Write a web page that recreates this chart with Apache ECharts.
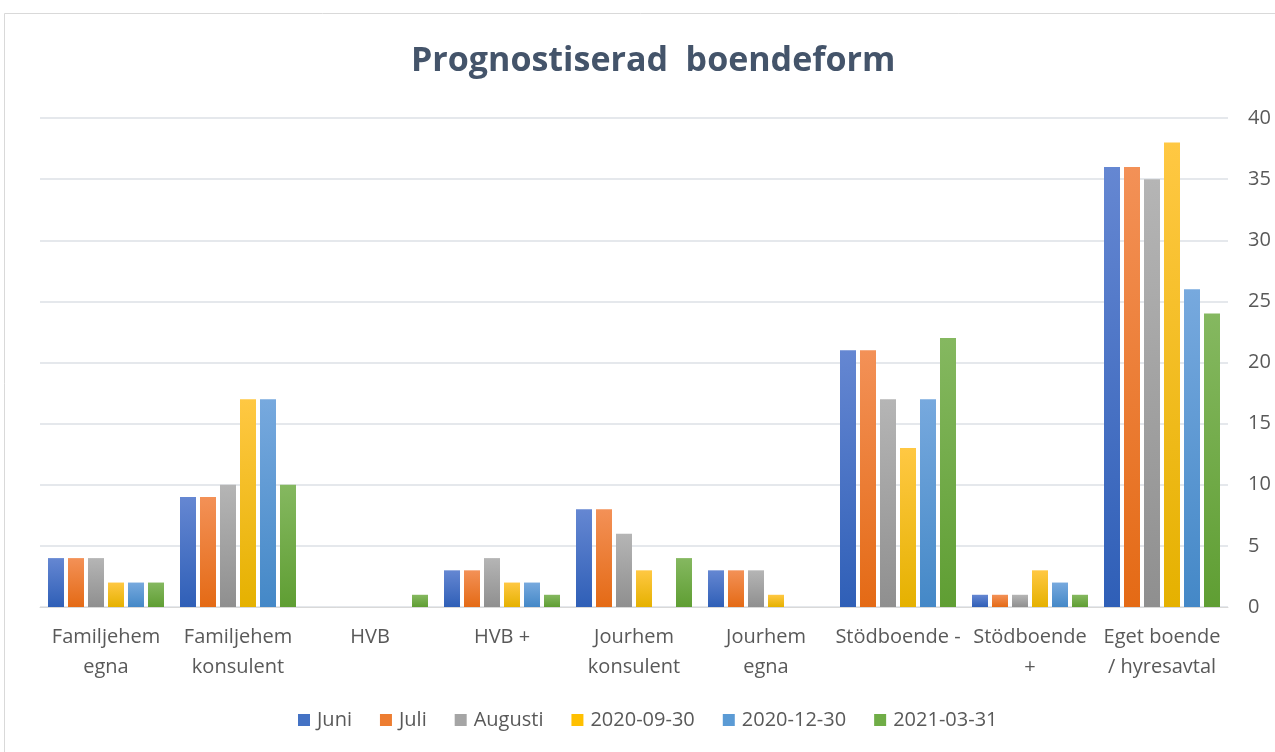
<!DOCTYPE html>
<html>
<head>
<meta charset="utf-8">
<script src="https://cdn.jsdelivr.net/npm/echarts@6/dist/echarts.min.js"></script>
<style>
html,body{margin:0;padding:0;background:#fff;}
#chart{width:1275px;height:752px;}
</style>
</head>
<body>
<div id="chart"></div>
<script>
const categories = ["Familjehem\negna", "Familjehem\nkonsulent", "HVB", "HVB +", "Jourhem\nkonsulent", "Jourhem\negna", "Stödboende -", "Stödboende\n+", "Eget boende\n/ hyresavtal"];
const seriesNames = ["Juni", "Juli", "Augusti", "2020-09-30", "2020-12-30", "2021-03-31"];
const juni    = [4, 9, 0, 3, 8, 3, 21, 1, 36];
const juli    = [4, 9, 0, 3, 8, 3, 21, 1, 36];
const augusti = [4, 10, 0, 4, 6, 3, 17, 1, 35];
const sep30   = [2, 17, 0, 2, 3, 1, 13, 3, 38];
const dec30   = [2, 17, 0, 2, 0, 0, 17, 2, 26];
const mar31   = [2, 10, 1, 1, 4, 0, 22, 1, 24];
const yTicks  = [0, 5, 10, 15, 20, 25, 30, 35, 40];

const seriesData = [juni, juli, augusti, sep30, dec30, mar31];
const topColors = ["#6587d2", "#f39157", "#b5b5b5", "#ffc843", "#77a9de", "#85b860"];
const botColors = ["#2f5fb7", "#e46a15", "#8f8f8f", "#e5b100", "#4488c7", "#5f9e33"];
const legendColors = ["#4472C4", "#ED7D31", "#A5A5A5", "#FFC000", "#5B9BD5", "#70AD47"];

const chart = echarts.init(document.getElementById('chart'));
const font = "'Open Sans', 'Noto Sans', sans-serif";

chart.setOption({
  backgroundColor: '#ffffff',
  animation: false,
  title: {
    text: 'Prognostiserad  boendeform',
    left: 406,
    top: 39,
    textStyle: { fontFamily: font, fontSize: 34, fontWeight: 'bold', color: '#44546A' }
  },
  graphic: [{
    type: 'rect',
    shape: { x: 4.5, y: 13.5, width: 1300, height: 800 },
    style: { fill: 'none', stroke: '#d9d9d9', lineWidth: 1 },
    silent: true
  }],
  legend: {
    top: 705,
    left: 293,
    itemWidth: 12,
    itemHeight: 12,
    itemGap: 28,
    icon: 'rect',
    textStyle: { fontFamily: font, fontSize: 20, color: '#595959', padding: [0, 0, 0, 2] },
    data: seriesNames.map((n, i) => ({ name: n, itemStyle: { color: legendColors[i] } }))
  },
  grid: { left: 40, right: 47, top: 118, bottom: 145, containLabel: false },
  xAxis: {
    type: 'category',
    data: categories,
    axisLine: { show: true, lineStyle: { color: '#d9d9d9', width: 1 } },
    axisTick: { show: false },
    axisLabel: { fontFamily: font, fontSize: 20, color: '#595959', lineHeight: 30, margin: 15, interval: 0 }
  },
  yAxis: {
    type: 'value',
    position: 'right',
    min: 0,
    max: 40,
    interval: 5,
    axisLine: { show: false },
    axisTick: { show: false },
    splitLine: { lineStyle: { color: '#dce0e6', width: 1.5 } },
    axisLabel: {
      fontFamily: font, fontSize: 20, color: '#595959', margin: 20,
      formatter: v => yTicks.includes(v) ? String(v) : ''
    }
  },
  series: seriesData.map((d, i) => ({
    name: seriesNames[i],
    type: 'bar',
    data: d,
    barWidth: 16,
    barGap: '25%',
    itemStyle: {
      color: new echarts.graphic.LinearGradient(0, 0, 0, 1, [
        { offset: 0, color: topColors[i] },
        { offset: 1, color: botColors[i] }
      ])
    }
  }))
});
</script>
</body>
</html>
